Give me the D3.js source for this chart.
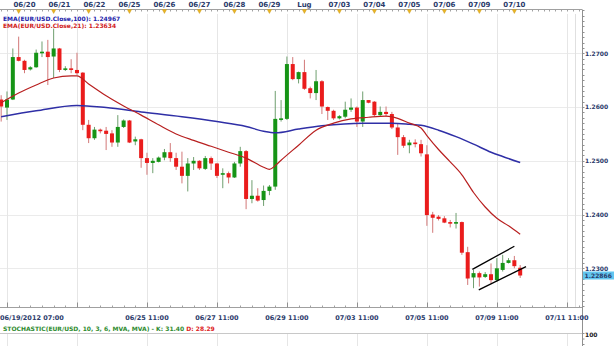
<!DOCTYPE html>
<html><head><meta charset="utf-8">
<script src="https://cdn.jsdelivr.net/npm/d3@7/dist/d3.min.js"></script>
<style>html,body{margin:0;padding:0;background:#fff;overflow:hidden}svg{display:block}text{font-family:"DejaVu Sans",Verdana,sans-serif;font-weight:bold}</style>
</head><body>
<svg id="c" width="614" height="346"></svg>
<script>
// ---- data (EUR/USD, 4h candles) ----
const opens = [1.2614,1.2599,1.2614,1.2693,1.2686,1.2670,1.2674,1.2700,1.2703,1.2694,
1.2709,1.2669,1.2672,1.2669,1.2664,1.2567,1.2542,1.2558,1.2556,1.2551,
1.2534,1.2563,1.2575,1.2536,1.2540,1.2505,1.2496,1.2498,1.2506,1.2516,
1.2505,1.2489,1.2472,1.2495,1.2500,1.2485,1.2505,1.2495,1.2474,1.2477,
1.2469,1.2495,1.2518,1.2429,1.2435,1.2427,1.2444,1.2452,1.2576,1.2578,
1.2680,1.2652,1.2665,1.2635,1.2626,1.2648,1.2600,1.2593,1.2579,1.2582,
1.2595,1.2599,1.2573,1.2613,1.2610,1.2585,1.2591,1.2587,1.2562,1.2544,
1.2529,1.2534,1.2531,1.2512,1.2400,1.2396,1.2393,1.2386,1.2383,1.2386,
1.2330,1.2283,1.2291,1.2284,1.2289,1.2278,1.2297,1.2310,1.2315,1.2301];
const highs = [1.2622,1.2629,1.2709,1.2731,1.2688,1.2676,1.2707,1.2722,1.2725,1.2746,
1.2710,1.2676,1.2689,1.2701,1.2665,1.2576,1.2563,1.2560,1.2563,1.2557,
1.2585,1.2577,1.2576,1.2545,1.2541,1.2515,1.2505,1.2508,1.2522,1.2533,
1.2515,1.2517,1.2505,1.2507,1.2501,1.2509,1.2508,1.2496,1.2486,1.2480,
1.2498,1.2526,1.2520,1.2464,1.2449,1.2454,1.2455,1.2630,1.2613,1.2694,
1.2693,1.2666,1.2688,1.2638,1.2669,1.2650,1.2601,1.2595,1.2585,1.2610,
1.2616,1.2601,1.2629,1.2613,1.2611,1.2601,1.2601,1.2591,1.2570,1.2548,
1.2539,1.2540,1.2539,1.2529,1.2405,1.2399,1.2397,1.2390,1.2403,1.2387,
1.2340,1.2297,1.2294,1.2293,1.2309,1.2319,1.2325,1.2319,1.2323,1.2306];
const lows = [1.2573,1.2576,1.2613,1.2685,1.2663,1.2668,1.2673,1.2693,1.2641,1.2654,
1.2665,1.2667,1.2663,1.2660,1.2557,1.2533,1.2539,1.2551,1.2520,1.2526,
1.2526,1.2561,1.2533,1.2529,1.2487,1.2474,1.2477,1.2497,1.2501,1.2498,
1.2483,1.2458,1.2443,1.2483,1.2483,1.2483,1.2483,1.2468,1.2449,1.2458,
1.2468,1.2489,1.2410,1.2421,1.2424,1.2416,1.2436,1.2446,1.2573,1.2576,
1.2650,1.2644,1.2632,1.2616,1.2613,1.2587,1.2576,1.2576,1.2577,1.2579,
1.2591,1.2563,1.2563,1.2607,1.2582,1.2582,1.2582,1.2559,1.2511,1.2524,
1.2514,1.2525,1.2508,1.2379,1.2366,1.2389,1.2384,1.2376,1.2374,1.2325,
1.2269,1.2263,1.2266,1.2282,1.2272,1.2275,1.2294,1.2309,1.2300,1.2282];
const closes = [1.2601,1.2614,1.2693,1.2686,1.2669,1.2674,1.2701,1.2703,1.2693,1.2709,
1.2669,1.2672,1.2669,1.2663,1.2567,1.2542,1.2558,1.2555,1.2550,1.2534,
1.2563,1.2575,1.2534,1.2540,1.2505,1.2496,1.2500,1.2506,1.2516,1.2505,
1.2489,1.2472,1.2495,1.2500,1.2486,1.2505,1.2495,1.2472,1.2477,1.2469,
1.2495,1.2518,1.2429,1.2435,1.2426,1.2444,1.2452,1.2578,1.2579,1.2680,
1.2652,1.2665,1.2634,1.2626,1.2648,1.2601,1.2593,1.2579,1.2583,1.2595,
1.2599,1.2573,1.2613,1.2608,1.2585,1.2591,1.2587,1.2562,1.2544,1.2528,
1.2534,1.2531,1.2514,1.2399,1.2394,1.2392,1.2385,1.2383,1.2386,1.2329,
1.2281,1.2291,1.2283,1.2289,1.2278,1.2300,1.2310,1.2315,1.2304,1.22866];

const ema100Idx = [0,6,13,18,24,31,37,42,45,47,51,55,62,67,70,72,75,78,81,84,86,89];
const ema100Val = [1.2582,1.2593,1.2603,1.2599,1.2591,1.2582,1.2573,1.2564,1.2555,1.2552,1.2559,1.2565,1.2570,1.2570,1.2568,1.2566,1.2557,1.2545,1.2531,1.2516,1.2508,1.24967];
const ema21Idx = [0,3,6,9,12,13,15,18,21,24,27,30,33,36,39,42,45,46,47,48,51,54,57,60,63,66,68,70,72,73,75,77,79,81,83,85,87,89];
const ema21Val = [1.2608,1.2626,1.2641,1.2654,1.2658,1.2658,1.2643,1.2621,1.2602,1.2585,1.2567,1.2550,1.2538,1.2527,1.2516,1.2505,1.2488,1.2484,1.2491,1.2501,1.2529,1.2557,1.2570,1.2578,1.2581,1.2583,1.2579,1.2570,1.2561,1.2547,1.2521,1.2498,1.2474,1.2441,1.2414,1.2393,1.2379,1.23634];

const channelUpper = [[80.8,1.2298],[88.0,1.2341]];
const channelLower = [[81.9,1.2260],[90.0,1.2303]];

const dayLabels = ["06/20","06/21","06/22","06/25","06/26","06/27","06/28","06/29","Lug","07/03","07/04","07/05","07/06","07/09","07/10"];
const dayLabelIdx = [4,10,16,22,28,34,40,46,52,58,64,70,76,82,88];
const dayMarkIdx = [3,9,15,22,28,34,40,46,52,58,64,70,76,82,88];
const timeLabels = ["06/19/2012 07:00","06/25 11:00","06/27 11:00","06/29 11:00","07/03 11:00","07/05 11:00","07/09 11:00","07/11 11:00"];
const timeLabelIdx = [0,25,37,49,61,73,85,97];
const gridIdx = [1,13,25,37,49,61,73,85,97];
const priceTicks = [1.23,1.24,1.25,1.26,1.27];
const priceLabels = ["1.2300","1.2400","1.2500","1.2600","1.2700"];
const legend100 = "EMA(EUR/USD.Close,100): 1.24967";
const legend21 = "EMA(EUR/USD.Close,21): 1.23634";
const stochText = "STOCHASTIC(EUR/USD, 10, 3, 6, MVA, MVA) - K: 31.40";
const stochD = " D: 28.29";
const lastPriceLabel = "1.22866";

// ---- drawing ----
const svg = d3.select('#c');
const plotR = 582, plotT = 9.5, plotB = 307.5, stochT = 333;
const x = d3.scaleLinear().domain([-0.2, 99.6]).range([0, plotR]);
const y = d3.scaleLinear().domain([1.23, 1.27]).range([268.3, 53.3]);
const navy = "#2a3a6a";

svg.append('defs').append('clipPath').attr('id','clip')
  .append('rect').attr('x',0).attr('y',plotT).attr('width',plotR).attr('height',plotB-plotT);

// grid
const grid = svg.append('g');
grid.selectAll('line.h').data(priceTicks).join('line')
  .attr('x1',0).attr('x2',plotR).attr('y1',d=>Math.round(y(d))+0.5).attr('y2',d=>Math.round(y(d))+0.5)
  .attr('stroke','#ebebeb');
grid.selectAll('line.v').data(gridIdx).join('line')
  .attr('x1',d=>Math.round(x(d))+0.5).attr('x2',d=>Math.round(x(d))+0.5).attr('y1',14).attr('y2',plotB)
  .attr('stroke','#e6e6e6');
grid.append('g').selectAll('line').data(gridIdx).join('line')
  .attr('x1',d=>Math.round(x(d))+0.5).attr('x2',d=>Math.round(x(d))+0.5).attr('y1',stochT).attr('y2',346)
  .attr('stroke','#e6e6e6');
grid.append('line').attr('x1',575.5).attr('x2',575.5).attr('y1',14).attr('y2',plotB).attr('stroke','#e0e0e0');

// top axis
const topAx = svg.append('g');
topAx.append('line').attr('x1',0).attr('x2',plotR).attr('y1',plotT).attr('y2',plotT).attr('stroke','#a0a0a0');
topAx.append('g').selectAll('line').data(d3.range(0,100)).join('line')
  .attr('x1',d=>Math.round(x(d))+0.5).attr('x2',d=>Math.round(x(d))+0.5).attr('y1',plotT).attr('y2',plotT+2)
  .attr('stroke','#a0a0a0');
topAx.append('g').selectAll('path').data(dayMarkIdx).join('path')
  .attr('d',d=>{const cx=x(d);return `M${cx-2.2},${plotT}L${cx+2.2},${plotT}L${cx},${plotT+4}Z`;})
  .attr('fill','#e9b422').attr('stroke','#c8961a').attr('stroke-width',0.4);
topAx.append('g').selectAll('text').data(dayLabels).join('text')
  .attr('x',(d,i)=>x(dayLabelIdx[i])).attr('y',7.3).attr('text-anchor','middle')
  .attr('font-size',7).attr('fill',navy).text(d=>d);

// candles
const plot = svg.append('g').attr('clip-path','url(#clip)');
const green = "#169416", red = "#ea1c1c";
const idx = d3.range(closes.length);
plot.append('g').selectAll('line').data(idx).join('line')
  .attr('x1',i=>x(i)).attr('x2',i=>x(i)).attr('y1',i=>y(highs[i])).attr('y2',i=>y(lows[i]))
  .attr('stroke',i=>closes[i]>=opens[i]?'#6f9f6f':'#d27878').attr('stroke-width',1);
plot.append('g').selectAll('rect').data(idx).join('rect')
  .attr('x',i=>x(i)-2).attr('width',4)
  .attr('y',i=>y(Math.max(opens[i],closes[i])))
  .attr('height',i=>Math.max(1.2,Math.abs(y(opens[i])-y(closes[i]))))
  .attr('fill',i=>closes[i]>=opens[i]?green:red);

// EMA lines
const line = d3.line().x(d=>x(d[0])).y(d=>y(d[1])).curve(d3.curveMonotoneX);
plot.append('path').datum(ema100Idx.map((d,i)=>[d,ema100Val[i]]))
  .attr('d',line).attr('fill','none').attr('stroke','#2f2fa6').attr('stroke-width',1.5);
plot.append('path').datum(ema21Idx.map((d,i)=>[d,ema21Val[i]]))
  .attr('d',line).attr('fill','none').attr('stroke','#b82020').attr('stroke-width',1.2);

// channel
const straight = d3.line().x(d=>x(d[0])).y(d=>y(d[1]));
[channelUpper,channelLower].forEach(c=>plot.append('path').datum(c).attr('d',straight)
  .attr('stroke','#000').attr('stroke-width',1.3).attr('fill','none'));

// legend
svg.append('text').attr('x',3).attr('y',21).attr('font-size',6).attr('fill','#2222aa').text(legend100);
svg.append('text').attr('x',3).attr('y',27.5).attr('font-size',6).attr('fill','#d02020').text(legend21);

// right axis
const ra = svg.append('g');
ra.append('line').attr('x1',plotR+0.5).attr('x2',plotR+0.5).attr('y1',plotT).attr('y2',346).attr('stroke','#909090');
const minor = d3.range(12230,12785,10).map(v=>v/10000).filter(d=>y(d)>=plotT&&y(d)<=plotB);
ra.append('g').selectAll('line').data(minor).join('line')
  .attr('x1',plotR).attr('x2',plotR+2.5).attr('y1',d=>Math.round(y(d))+0.5).attr('y2',d=>Math.round(y(d))+0.5)
  .attr('stroke','#909090');
ra.append('g').selectAll('text').data(priceLabels).join('text')
  .attr('x',plotR+3).attr('y',(d,i)=>y(priceTicks[i])+2.2).attr('font-size',6).attr('fill',navy).text(d=>d);
const ly = y(closes[closes.length-1]);
ra.append('rect').attr('x',plotR+1).attr('y',ly-4).attr('width',31).attr('height',8).attr('fill','#62c6f0');
ra.append('text').attr('x',plotR+2.5).attr('y',ly+2.2).attr('font-size',6).attr('fill',navy).text(lastPriceLabel);

// bottom axis
const ba = svg.append('g');
ba.append('line').attr('x1',0).attr('x2',plotR).attr('y1',plotB).attr('y2',plotB).attr('stroke','#a0a0a0');
ba.append('g').selectAll('line').data(d3.range(1,100,2)).join('line')
  .attr('x1',d=>Math.round(x(d))+0.5).attr('x2',d=>Math.round(x(d))+0.5).attr('y1',plotB-2).attr('y2',plotB)
  .attr('stroke','#a0a0a0');
ba.append('g').selectAll('line').data(gridIdx).join('line')
  .attr('x1',d=>Math.round(x(d))+0.5).attr('x2',d=>Math.round(x(d))+0.5).attr('y1',plotB-5).attr('y2',plotB)
  .attr('stroke','#909090');
ba.append('g').selectAll('text').data(timeLabels).join('text')
  .attr('x',(d,i)=>i===0?0:x(timeLabelIdx[i])).attr('y',320)
  .attr('text-anchor',(d,i)=>i===0?'start':'middle').attr('font-size',6.5).attr('fill',navy).text(d=>d);

// stochastic panel header
svg.append('line').attr('x1',0).attr('x2',plotR).attr('y1',stochT+0.5).attr('y2',stochT+0.5).attr('stroke','#c8c8c8');
const st = svg.append('text').attr('x',3).attr('y',331).attr('font-size',6);
st.append('tspan').attr('fill','#2e8b2e').text(stochText);
st.append('tspan').attr('fill','#dd2222').text(stochD);
svg.append('text').attr('x',plotR+3).attr('y',336.5).attr('font-size',6).attr('fill','#222').text('100');
svg.append('g').selectAll('line').data(d3.range(0,3)).join('line')
  .attr('x1',plotR).attr('x2',plotR+2.5).attr('y1',d=>stochT+0.5+d*5.5).attr('y2',d=>stochT+0.5+d*5.5).attr('stroke','#909090');
</script>
</body></html>
